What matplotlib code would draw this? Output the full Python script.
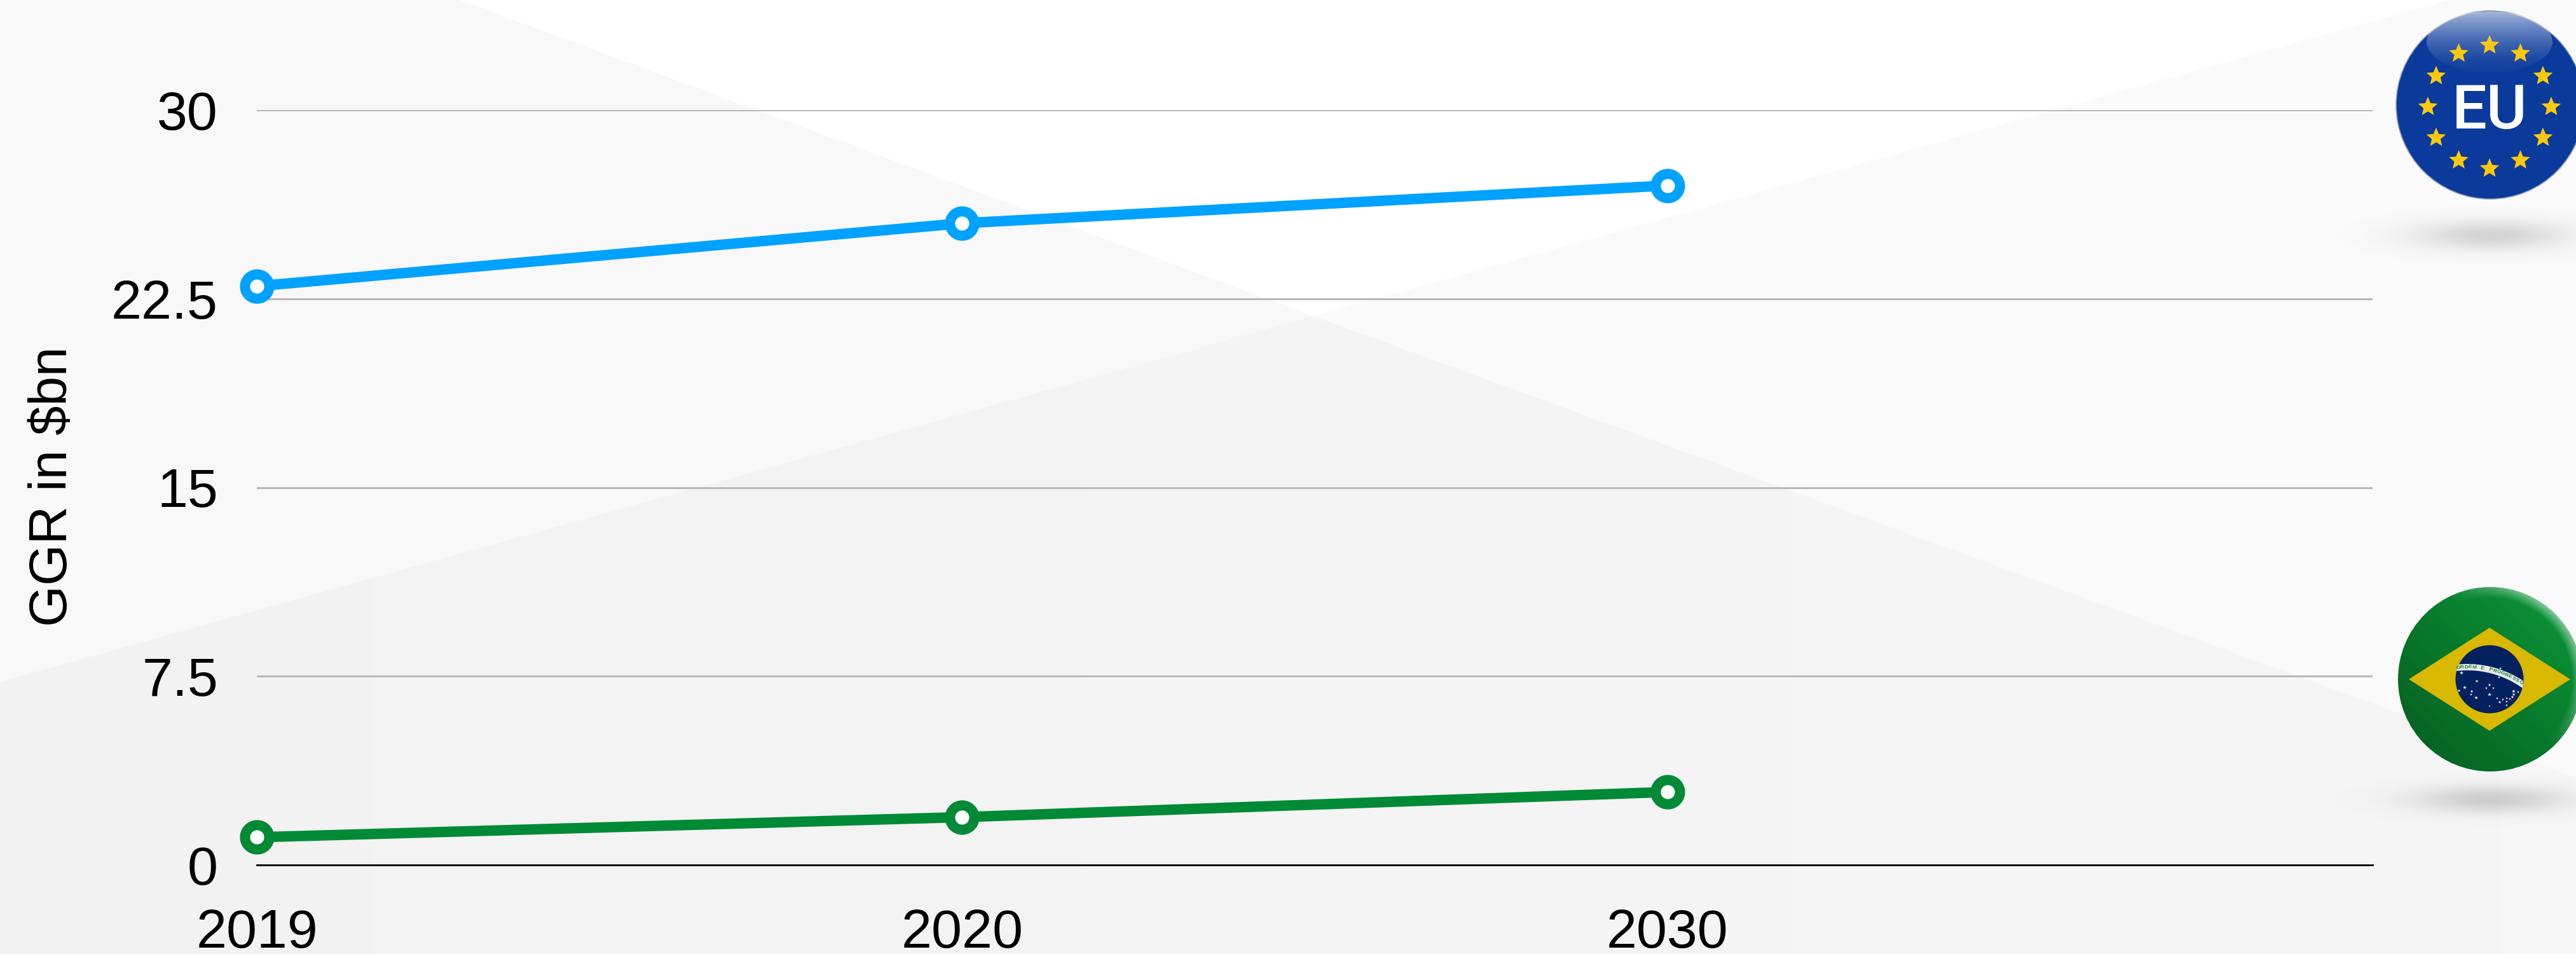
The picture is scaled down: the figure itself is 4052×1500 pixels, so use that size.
#!/usr/bin/env python
# -*- coding: utf-8 -*-

# GGR line chart, EU vs Brazil, with flag badges on the right

import numpy as np
import matplotlib
matplotlib.use("Agg")
import matplotlib.pyplot as plt
from matplotlib.patches import Circle, Ellipse, Polygon, Wedge

############# Data ##############

years = ["2019", "2020", "2030", ""]
eu_ggr = [23.0, 25.5, 27.0]
brazil_ggr = [1.1, 1.9, 2.9]
y_ticks = [0, 7.5, 15, 22.5, 30]
y_tick_labels = ["0", "7.5", "15", "22.5", "30"]
y_label = "GGR in \\$bn"

EU_BLUE = "#00a2ff"
BR_GREEN = "#008a35"

#################################

W, H = 4052, 1500
plt.rcParams["font.family"] = ["Liberation Sans", "DejaVu Sans"]

fig = plt.figure(figsize=(W / 100, H / 100), dpi=100, facecolor="white")

# pixel axes for the background and the badges
bg = fig.add_axes([0, 0, 1, 1], zorder=0)
bg.set_xlim(0, W)
bg.set_ylim(H, 0)
bg.axis("off")


def grad_image(x0, x1, y0, y1, rgba, zorder=2):
    return bg.imshow(rgba, extent=(x0, x1, y1, y0), aspect="auto", interpolation="bilinear", zorder=zorder)


# BACKGROUND, two crossing bands
cross = (2066, 497)
bg.add_patch(Polygon([(0, 0), (723, 0), cross, (0, 1072)], fc="#f8f8f8", ec="none"))
bg.add_patch(Polygon([cross, (3852, 0), (W, 0), (W, 1223)], fc="#fafafa", ec="none"))

# lower part gets a bit lighter to the right
low = np.ones((2, 60, 4))
low[..., :3] = np.linspace(0.951, 0.965, 60)[None, :, None]
low_clip = Polygon([(0, 1072), cross, (W, 1223), (W, H), (0, H)], transform=bg.transData)
grad_image(0, W, 0, H, low, zorder=1).set_clip_path(low_clip)


def soft_shadow(cx, cy, sx, sy, peak):
    x = np.linspace(cx - 3 * sx, cx + 3 * sx, 200)
    y = np.linspace(cy - 3 * sy, cy + 3 * sy, 80)
    xx, yy = np.meshgrid(x, y)
    rgba = np.zeros(xx.shape + (4,))
    rgba[..., :3] = 0.35
    rgba[..., 3] = peak * np.exp(-((xx - cx) / sx) ** 2 / 2 - ((yy - cy) / sy) ** 2 / 2)
    grad_image(x[0], x[-1], y[0], y[-1], rgba)


def star(cx, cy, r, color, zorder=5):
    ang = np.radians(np.arange(10) * 36 - 90)
    rad = np.where(np.arange(10) % 2 == 0, r, r * 0.45)
    pts = np.column_stack([cx + rad * np.cos(ang), cy + rad * np.sin(ang)])
    bg.add_patch(Polygon(pts, fc=color, ec="none", zorder=zorder))


# EU BADGE
eu_cx, eu_cy, eu_r = 3917, 165, 148
soft_shadow(3917, 370, 85, 17, 0.24)
bg.add_patch(Circle((eu_cx, eu_cy), eu_r, fc="#0a3a9b", ec="#9aa6c0", lw=1.2, zorder=3))

# gloss on the upper part
gloss_y = np.linspace(0, 1, 100)
gloss = np.ones((100, 2, 4))
gloss[..., 3] = (0.60 * (1 - gloss_y) ** 1.6 + 0.03)[:, None]
gloss_clip = Ellipse((3916, 66), 198, 96, transform=bg.transData)
grad_image(3817, 4015, 18, 114, gloss, zorder=4).set_clip_path(gloss_clip)

for i in range(12):
    a = np.radians(i * 30)
    star(3916 + 97 * np.cos(a), 168 + 97 * np.sin(a), 16, "#fdc80e")
bg.text(3916, 202, "EU", color="white", fontsize=70, ha="center", va="baseline", zorder=6,
        family=["Roboto", "DejaVu Sans"], fontweight="medium")

# BRAZIL BADGE
br_cx, br_cy, br_r = 3917, 1068, 145
soft_shadow(3917, 1257, 85, 15, 0.26)
yy, xx = np.mgrid[0:1:120j, 0:1:120j]
t = (xx + (1 - yy)) / 2
green_lo, green_hi = np.array([0.02, 0.36, 0.12]), np.array([0.04, 0.60, 0.23])
br_rgba = np.ones((120, 120, 4))
br_rgba[..., :3] = green_lo + (green_hi - green_lo) * t[..., None]
br_clip = Circle((br_cx, br_cy), br_r, transform=bg.transData)
grad_image(br_cx - br_r, br_cx + br_r, br_cy - br_r, br_cy + br_r, br_rgba, zorder=3).set_clip_path(br_clip)

# soft light rim at the upper right
gy, gx = np.mgrid[-1:1:300j, -1:1:300j]
rr = np.hypot(gx, gy)
theta = np.arctan2(-gy, gx)
rim = np.ones((300, 300, 4))
rim[..., 3] = 0.5 * np.clip((rr - 0.88) / 0.12, 0, 1) * np.clip(np.cos(theta - np.radians(35)) * 1.3 - 0.2, 0, 1)
rim_clip = Circle((br_cx, br_cy), br_r, transform=bg.transData)
grad_image(br_cx - br_r, br_cx + br_r, br_cy - br_r, br_cy + br_r, rim, zorder=4).set_clip_path(rim_clip)

bg.add_patch(Polygon([(3789, 1068), (3916, 987), (4043, 1068), (3916, 1149)],
                     fc="#d9b800", ec="none", zorder=4))
bg.add_patch(Circle((3916, 1068), 53.5, fc="#03205f", ec="none", zorder=5))
band = Wedge((3881, 1203), 159, 260, 310, width=10, fc="#e8ecea", ec="none", zorder=6)
bg.add_patch(band)
band.set_clip_path(Circle((3916, 1068), 53.5, transform=bg.transData))

motto = "ORDEM E PROGRESSO"
motto_angles = np.linspace(-95.5, -57.0, len(motto))
for ch, a in zip(motto, motto_angles):
    ar = np.radians(a)
    bg.text(3881 + 154 * np.cos(ar), 1203 + 154 * np.sin(ar), ch, fontsize=6, color="#0f7f3a",
            rotation=-(a + 90), ha="center", va="center", zorder=7, fontweight="bold")

sky_stars = [(3872, 1058, 3), (3933, 1051, 2), (3896, 1071, 2.5), (3877, 1081, 3), (3868, 1086, 2.5),
             (3888, 1087, 2.5), (3887, 1092, 2), (3895, 1097, 3), (3916, 1077, 2.5), (3911, 1082, 2),
             (3922, 1082, 2), (3916, 1092, 3), (3928, 1098, 2), (3932, 1104, 2.5), (3937, 1100, 2),
             (3943, 1098, 2), (3948, 1099, 2), (3943, 1103, 2), (3943, 1109, 2), (3952, 1096, 2.5),
             (3954, 1092, 2.5), (3954, 1087, 3), (3961, 1088, 2), (3916, 1110, 1.5), (3931, 1065, 2)]
for sx, sy, sr in sky_stars:
    star(sx, sy, sr, "#dfe5ee", zorder=6)

bg.set_xlim(0, W)
bg.set_ylim(H, 0)

# MAIN AXES
ax = fig.add_axes([404 / W, 1 - 1360 / H, (3732 - 404) / W, (1360 - 173) / H], zorder=1)
ax.patch.set_alpha(0)
x_pos = np.arange(len(years))
ax.set_xlim(0, 3)
ax.set_ylim(0, 30)

ax.grid(axis="y", color="#b6b6b6", lw=2.1)
ax.set_axisbelow(True)
for s in ["top", "right", "left"]:
    ax.spines[s].set_visible(False)
ax.spines["bottom"].set_color("black")
ax.spines["bottom"].set_linewidth(2.0)

marker = dict(marker="o", ms=27.5, mew=11.5, mfc="white", lw=11.8, clip_on=False, solid_capstyle="butt")
ax.plot(x_pos[:3], eu_ggr, color=EU_BLUE, mec=EU_BLUE, zorder=4, **marker)
ax.plot(x_pos[:3], brazil_ggr, color=BR_GREEN, mec=BR_GREEN, zorder=4, **marker)

ax.set_xticks(x_pos)
ax.set_xticklabels(years, fontsize=62)
ax.set_yticks(y_ticks)
ax.set_yticklabels(y_tick_labels, fontsize=62)
ax.tick_params(axis="both", length=0)
ax.tick_params(axis="x", pad=49)
ax.tick_params(axis="y", pad=44)

fig.text(83 / W, 1 - 765 / H, y_label, rotation=90, fontsize=60, ha="center", va="center", color="black")

plt.savefig("out.png", dpi=100)
